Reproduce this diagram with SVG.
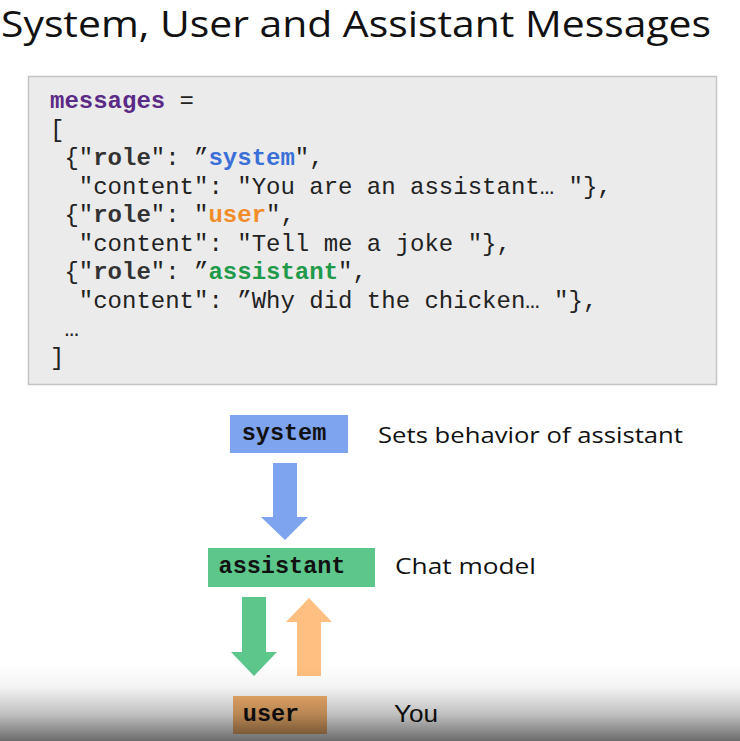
<svg xmlns="http://www.w3.org/2000/svg" width="740" height="741" viewBox="0 0 740 741">
<defs>
<style>
.title{font-family:"Open Sans","Noto Sans",sans-serif;fill:#111;}
.code{font-family:"Liberation Mono","Courier New",monospace;font-size:24px;fill:#222;}
.b{font-weight:bold;}
.role{font-weight:bold;fill:#333;}
.lbl{font-family:"Liberation Mono","Courier New",monospace;font-size:23.5px;font-weight:bold;fill:#111;}
.desc{font-family:"Open Sans","Noto Sans",sans-serif;font-size:22px;fill:#111;}
</style>
<linearGradient id="shade" x1="0" y1="0" x2="0" y2="1">
<stop offset="0" stop-color="#000" stop-opacity="0"/>
<stop offset="0.3" stop-color="#000" stop-opacity="0.05"/>
<stop offset="0.65" stop-color="#000" stop-opacity="0.25"/>
<stop offset="1" stop-color="#000" stop-opacity="0.58"/>
</linearGradient>
</defs>
<rect width="740" height="741" fill="#fff"/>
<text class="title" x="1" y="37" font-size="36" textLength="710" lengthAdjust="spacingAndGlyphs">System, User and Assistant Messages</text>

<g id="code">
<rect x="28.5" y="76.5" width="688" height="308" fill="#ebebeb" stroke="#c4c4c4" stroke-width="1.5"/>
<text class="code" x="50" y="108"><tspan class="b" fill="#5b2a86">messages</tspan> =</text>
<text class="code" x="50" y="137">[</text>
<text class="code" x="50" y="165" xml:space="preserve"> {"<tspan class="role">role</tspan>": ”<tspan class="b" fill="#3a6fd8">system</tspan>",</text>
<text class="code" x="50" y="194" xml:space="preserve">  "content": "You are an assistant… "},</text>
<text class="code" x="50" y="222" xml:space="preserve"> {"<tspan class="role">role</tspan>": "<tspan class="b" fill="#f28c28">user</tspan>",</text>
<text class="code" x="50" y="251" xml:space="preserve">  "content": "Tell me a joke "},</text>
<text class="code" x="50" y="279" xml:space="preserve"> {"<tspan class="role">role</tspan>": ”<tspan class="b" fill="#1f9a4a">assistant</tspan>",</text>
<text class="code" x="50" y="308" xml:space="preserve">  "content": ”Why did the chicken… "},</text>
<text class="code" x="50" y="336" xml:space="preserve"> …</text>
<text class="code" x="50" y="365">]</text>
</g>

<g id="system">
<rect x="230" y="415" width="118" height="38" fill="#7ea3ef"/>
<text class="lbl" x="284" y="440" text-anchor="middle">system</text>
<text class="desc" x="378" y="443" textLength="305" lengthAdjust="spacingAndGlyphs">Sets behavior of assistant</text>
</g>

<g id="assistant">
<rect x="208" y="548" width="167" height="39" fill="#5cc68b"/>
<text class="lbl" x="282" y="573" text-anchor="middle">assistant</text>
<text class="desc" x="395" y="574" textLength="141" lengthAdjust="spacingAndGlyphs">Chat model</text>
</g>

<g id="user">
<rect x="233" y="696" width="94" height="38" fill="#f5b26e"/>
<text class="lbl" x="271" y="721" text-anchor="middle">user</text>
<text x="394" y="722" font-family="Liberation Sans,Arial,sans-serif" font-size="24" fill="#111" textLength="44" lengthAdjust="spacingAndGlyphs">You</text>
</g>

<g id="connectors">
<polygon points="273,463 297,463 297,517 308,517 285,540 261,517 273,517" fill="#7ea3ef"/>
<polygon points="242,597 266,597 266,652 277,652 254,676 231,652 242,652" fill="#5cc68b"/>
<polygon points="297,676 321,676 321,622 332,622 309,598 286,622 297,622" fill="#ffbf80"/>
</g>

<rect x="0" y="665" width="740" height="76" fill="url(#shade)"/>
</svg>
